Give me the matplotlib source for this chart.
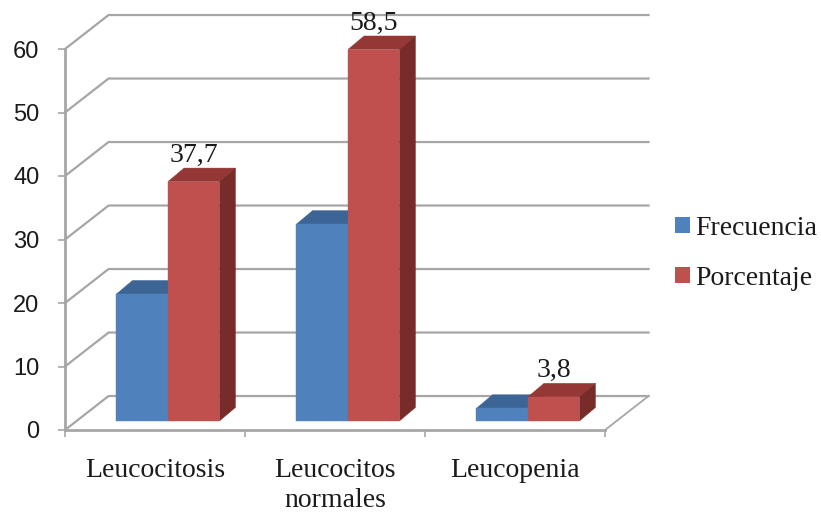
import matplotlib
matplotlib.use("Agg")
import matplotlib.pyplot as plt
from matplotlib.patches import Patch, Polygon

# Data
CATEGORIES = ["Leucocitosis", "Leucocitos\nnormales", "Leucopenia"]
FRECUENCIA = [20, 31, 2]
PORCENTAJE = [37.7, 58.5, 3.8]
PORCENTAJE_LABELS = ["37,7", "58,5", "3,8"]
Y_TICKS = [0, 10, 20, 30, 40, 50, 60]

BLUE = ("#4f81bd", "#3c6494", "#2f4f75")
RED = ("#c0504d", "#953735", "#772c2a")
GRAY = "#a6a6a6"

# Depth of the fake 3D box, in axis units
WALL_DX, WALL_DY = 0.242, 5.35
BAR_DX, BAR_DY = 0.089, 2.13
SHIFT_X, SHIFT_Y = 0.072, 1.42
BAR_W = 0.286

plt.rcParams['font.family'] = ['Liberation Serif', 'DejaVu Serif']

fig = plt.figure(figsize=(8.21, 5.13), dpi=100)
ax = fig.add_axes([65 / 821, 1 - 430 / 513, 540 / 821, 381 / 513])
ax.set_xlim(0, 3)
ax.set_ylim(0, 60)


def draw_bar(x, value, colors):
    # front, top and side faces
    x0 = x + SHIFT_X
    x1 = x0 + BAR_W
    y0 = SHIFT_Y
    y1 = y0 + value
    faces = [
        ([(x0, y1), (x1, y1), (x1 + BAR_DX, y1 + BAR_DY), (x0 + BAR_DX, y1 + BAR_DY)], colors[1]),
        ([(x1, y0), (x1 + BAR_DX, y0 + BAR_DY), (x1 + BAR_DX, y1 + BAR_DY), (x1, y1)], colors[2]),
        ([(x0, y0), (x1, y0), (x1, y1), (x0, y1)], colors[0]),
    ]
    for pts, col in faces:
        ax.add_patch(Polygon(pts, closed=True, facecolor=col, edgecolor=col, lw=0.3,
                             clip_on=False, zorder=3))
    return x0, x1, y1


# Back wall gridlines with their slanted side
for tick in Y_TICKS:
    ax.plot([0, WALL_DX, 3 + WALL_DX], [tick, tick + WALL_DY, tick + WALL_DY],
            color=GRAY, lw=1.6, clip_on=False, zorder=1)
ax.plot([3, 3 + WALL_DX], [0, WALL_DY], color=GRAY, lw=1.3, clip_on=False, zorder=1)

for i in range(len(CATEGORIES)):
    draw_bar(i + 0.5 - BAR_W, FRECUENCIA[i], BLUE)
    x0, x1, top = draw_bar(i + 0.5, PORCENTAJE[i], RED)
    ax.annotate(PORCENTAJE_LABELS[i], ((x0 + x1) / 2, top), xytext=(0, 19),
                textcoords='offset points', ha='center', va='center',
                fontsize=20, color='#1a1a1a', zorder=5, annotation_clip=False)

for side in ['top', 'right']:
    ax.spines[side].set_visible(False)
for side in ['left', 'bottom']:
    ax.spines[side].set_color(GRAY)
    ax.spines[side].set_linewidth(2.0)

ax.set_yticks(Y_TICKS)
ax.set_yticklabels([str(t) for t in Y_TICKS], family='Liberation Sans', fontsize=17, color='#1a1a1a')
ax.set_xticks([0, 1, 2, 3])
ax.set_xticklabels([])
ax.set_xticks([0.5, 1.5, 2.5], minor=True)
ax.set_xticklabels(CATEGORIES, minor=True, fontsize=20, color='#1a1a1a', linespacing=1.25)
ax.tick_params(axis='y', length=5, width=1.2, color=GRAY, pad=13.5)
ax.tick_params(axis='x', which='major', length=5, width=1.2, color=GRAY)
ax.tick_params(axis='x', which='minor', length=0, pad=20.5)

handles = [Patch(facecolor=BLUE[0], label="Frecuencia"),
           Patch(facecolor=RED[0], label="Porcentaje")]
ax.legend(handles=handles, loc='center left', bbox_to_anchor=(672 / 821, 1 - 253.5 / 513),
          bbox_transform=fig.transFigure, frameon=False, fontsize=20, labelcolor='#1a1a1a',
          handlelength=0.54, handleheight=0.54, handletextpad=0.2, labelspacing=0.9,
          borderaxespad=0, borderpad=0.1)

fig.savefig("out.png", dpi=100)
